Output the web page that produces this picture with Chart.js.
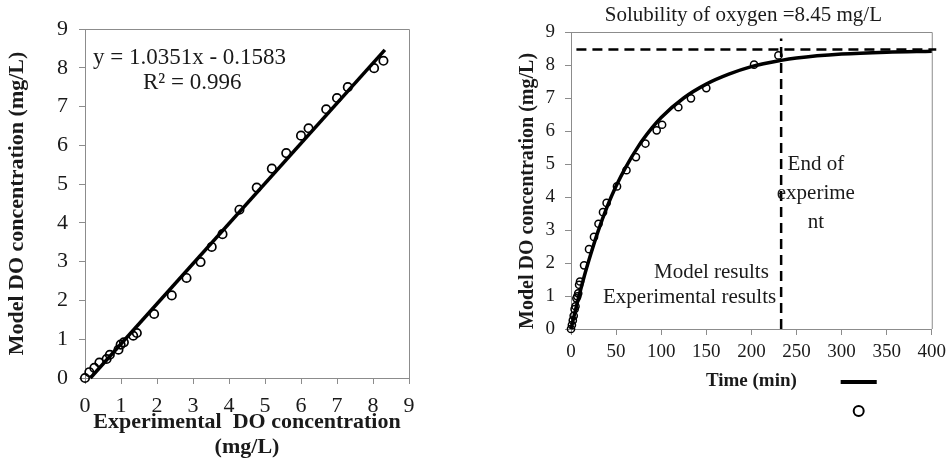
<!DOCTYPE html>
<html>
<head>
<meta charset="utf-8">
<script src="https://cdn.jsdelivr.net/npm/chart.js@4/dist/chart.umd.min.js"></script>
<style>
body { margin: 0; background: #fff; }
#wrap { position: relative; width: 952px; height: 463px; }
canvas { position: absolute; top: 0; }
#doFit { left: 0; }
#doTime { left: 476px; }
</style>
</head>
<body>
<div id="wrap">
  <canvas id="doFit" width="476" height="463"></canvas>
  <canvas id="doTime" width="476" height="463"></canvas>
</div>
<script>
// Data

// left: model vs experimental DO (mg/L)
let expDO = [0, 0.12, 0.26, 0.4, 0.6, 0.69, 0.93, 0.99, 1.08, 1.34, 1.44, 1.92, 2.41, 2.82, 3.21, 3.52, 3.82, 4.29, 4.77, 5.19, 5.59, 6.0, 6.21, 6.7, 7.0, 7.3, 8.03, 8.29];
let modelDO = [0, 0.15, 0.26, 0.4, 0.49, 0.6, 0.73, 0.86, 0.92, 1.09, 1.16, 1.65, 2.13, 2.58, 2.99, 3.38, 3.71, 4.34, 4.91, 5.4, 5.8, 6.25, 6.44, 6.93, 7.22, 7.5, 7.99, 8.18];
let trendX = [0.15, 8.33];
let trendY = [0, 8.46];
let fitTicks = [0, 1, 2, 3, 4, 5, 6, 7, 8, 9];

// right: DO over time
let expTime = [0, 1, 2, 3, 4, 5, 6, 7, 8, 9, 10, 14.5, 20, 25.5, 30.5, 35.5, 39.5, 51, 61.5, 72, 82.5, 95, 101, 119, 133, 150, 203, 230];
let expConc = [0, 0.12, 0.26, 0.4, 0.6, 0.69, 0.93, 0.99, 1.08, 1.34, 1.44, 1.93, 2.42, 2.79, 3.19, 3.54, 3.82, 4.32, 4.81, 5.21, 5.62, 6.02, 6.19, 6.72, 6.99, 7.3, 8.01, 8.29];
let modelTime = [0, 5, 10, 15, 20, 30, 40, 50, 60, 75, 90, 100, 125, 150, 175, 200, 233, 250, 300, 350, 400];
let modelConc = [0, 0.58, 1.12, 1.63, 2.1, 2.96, 3.7, 4.33, 4.87, 5.55, 6.1, 6.41, 7.0, 7.42, 7.72, 7.95, 8.14, 8.21, 8.33, 8.39, 8.42];
let satTime = [6, 405];
let satConc = [8.47, 8.47];
let endTime = [233, 233];
let endConc = [0, 8.8];
let timeTicks = [0, 50, 100, 150, 200, 250, 300, 350, 400];
let concTicks = [0, 1, 2, 3, 4, 5, 6, 7, 8, 9];

function pairs(xs, ys) {
    return xs.map((v, i) => ({x: v, y: ys[i]}));
}

const serif = '"Liberation Serif", "Times New Roman", serif';
Chart.defaults.font.family = serif;
Chart.defaults.color = "#1a1a1a";
Chart.defaults.animation = false;
Chart.defaults.plugins.legend.display = false;
Chart.defaults.plugins.tooltip.enabled = false;

const axisGray = "#8c8c8c";

// top and right edge of the plot box
const frame = {
    id: "frame",
    beforeDatasetsDraw(chart) {
        const {ctx, chartArea: a} = chart;
        ctx.save();
        ctx.strokeStyle = axisGray;
        ctx.lineWidth = 1;
        ctx.beginPath();
        ctx.moveTo(a.left, a.top + 0.5);
        ctx.lineTo(a.right + 0.5, a.top + 0.5);
        ctx.lineTo(a.right + 0.5, a.bottom);
        ctx.stroke();
        ctx.restore();
    }
};

function fixedTicks(values) {
    return s => { s.ticks = values.map(v => ({value: v})); };
}

//Left: parity plot

const fitNotes = {
    id: "fitNotes",
    afterDatasetsDraw(chart) {
        const {ctx, scales: {x, y}} = chart;
        ctx.save();
        ctx.fillStyle = "#1a1a1a";
        ctx.font = "23px " + serif;
        ctx.textAlign = "left";
        ctx.textBaseline = "middle";
        ctx.fillText("y = 1.0351x - 0.1583", x.getPixelForValue(0.22), y.getPixelForValue(8.25));
        ctx.fillText("R\u00b2 = 0.996", x.getPixelForValue(1.61), y.getPixelForValue(7.6));
        ctx.restore();
    }
};

let fitChart = new Chart(document.getElementById("doFit").getContext("2d"), {
    type: "scatter",
    data: {
        datasets: [{
            data: pairs(expDO, modelDO),
            pointRadius: 4.2,
            borderWidth: 1.7,
            borderColor: "#000",
            backgroundColor: "rgba(0,0,0,0)",
            clip: false
        }, {
            data: pairs(trendX, trendY),
            showLine: true,
            pointRadius: 0,
            borderColor: "#000",
            borderWidth: 3.5,
            clip: false
        }]
    },
    options: {
        responsive: false,
        devicePixelRatio: 1,
        layout: {padding: {left: 0, right: 67, top: 29, bottom: 0}},
        scales: {
            x: {
                type: "linear",
                min: 0,
                max: 9,
                afterFit: s => { s.height = 85; },
                afterBuildTicks: fixedTicks(fitTicks),
                ticks: {padding: 9, font: {size: 22}, autoSkip: false, maxRotation: 0},
                grid: {drawOnChartArea: false, tickLength: 6, color: axisGray},
                border: {color: axisGray, width: 1},
                title: {
                    display: true,
                    text: ["Experimental  DO concentration", "(mg/L)"],
                    font: {size: 22, weight: "bold", lineHeight: 1.1},
                    padding: {top: 0, bottom: 4}
                }
            },
            y: {
                type: "linear",
                min: 0,
                max: 9,
                afterFit: s => { s.width = 85; },
                afterBuildTicks: fixedTicks(fitTicks),
                ticks: {padding: 11, font: {size: 22}, autoSkip: false},
                grid: {drawOnChartArea: false, tickLength: 6, color: axisGray},
                border: {color: axisGray, width: 1},
                title: {
                    display: true,
                    text: "Model DO concentration (mg/L)",
                    font: {size: 22, weight: "bold", lineHeight: 1.2},
                    padding: {top: 4, bottom: 0}
                }
            }
        }
    },
    plugins: [frame, fitNotes]
});

//Right: DO vs time

const timeNotes = {
    id: "timeNotes",
    afterDatasetsDraw(chart) {
        const {ctx, chartArea: a, scales: {x, y}} = chart;
        ctx.save();
        ctx.fillStyle = "#1a1a1a";
        ctx.font = "21px " + serif;
        ctx.textBaseline = "middle";
        ctx.textAlign = "center";
        ctx.fillText("Solubility of oxygen =8.45 mg/L", (a.left + a.right) / 2 - 8, 15);
        ctx.fillText("End of", x.getPixelForValue(271.5), y.getPixelForValue(4.98));
        ctx.fillText("experime", x.getPixelForValue(271.5), y.getPixelForValue(4.1));
        ctx.fillText("nt", x.getPixelForValue(271.5), y.getPixelForValue(3.22));
        ctx.textAlign = "left";
        ctx.fillText("Model results", x.getPixelForValue(92), y.getPixelForValue(1.71));
        ctx.fillText("Experimental results", x.getPixelForValue(35.5), y.getPixelForValue(0.95));

        // legend keys below the axis
        ctx.strokeStyle = "#000";
        ctx.lineWidth = 4;
        ctx.beginPath();
        ctx.moveTo(x.getPixelForValue(299), 382);
        ctx.lineTo(x.getPixelForValue(339), 382);
        ctx.stroke();
        ctx.lineWidth = 2;
        ctx.beginPath();
        ctx.arc(x.getPixelForValue(319), 411, 5, 0, Math.PI * 2);
        ctx.stroke();
        ctx.restore();
    }
};

let timeChart = new Chart(document.getElementById("doTime").getContext("2d"), {
    type: "scatter",
    data: {
        datasets: [{
            label: "Experimental results",
            data: pairs(expTime, expConc),
            pointRadius: 3.6,
            borderWidth: 1.5,
            borderColor: "#000",
            backgroundColor: "rgba(0,0,0,0)",
            clip: false
        }, {
            label: "Model results",
            data: pairs(modelTime, modelConc),
            showLine: true,
            cubicInterpolationMode: "monotone",
            pointRadius: 0,
            borderColor: "#000",
            borderWidth: 3.5,
            clip: false
        }, {
            data: pairs(satTime, satConc),
            showLine: true,
            pointRadius: 0,
            borderColor: "#000",
            borderWidth: 2.5,
            borderDash: [10, 6],
            clip: false
        }, {
            data: pairs(endTime, endConc),
            showLine: true,
            pointRadius: 0,
            borderColor: "#000",
            borderWidth: 2.5,
            borderDash: [10, 6],
            clip: false
        }]
    },
    options: {
        responsive: false,
        devicePixelRatio: 1,
        layout: {padding: {left: 0, right: 20, top: 32, bottom: 0}},
        scales: {
            x: {
                type: "linear",
                min: 0,
                max: 400,
                afterFit: s => { s.height = 134; },
                afterBuildTicks: fixedTicks(timeTicks),
                ticks: {padding: 6, font: {size: 19}, autoSkip: false, maxRotation: 0},
                grid: {drawOnChartArea: false, tickLength: 6, color: axisGray},
                border: {color: axisGray, width: 1},
                title: {
                    display: true,
                    text: "Time (min)",
                    font: {size: 19, weight: "bold", lineHeight: 1.2},
                    padding: {top: 0, bottom: 71}
                }
            },
            y: {
                type: "linear",
                min: 0,
                max: 9,
                afterFit: s => { s.width = 95; },
                afterBuildTicks: fixedTicks(concTicks),
                ticks: {padding: 10, font: {size: 19}, autoSkip: false},
                grid: {drawOnChartArea: false, tickLength: 6, color: axisGray},
                border: {color: axisGray, width: 1},
                title: {
                    display: true,
                    text: "Model DO concentration (mg/L)",
                    align: "start",
                    font: {size: 20, weight: "bold", lineHeight: 1.2},
                    padding: {top: 40, bottom: 0}
                }
            }
        }
    },
    plugins: [frame, timeNotes]
});
</script>
</body>
</html>
